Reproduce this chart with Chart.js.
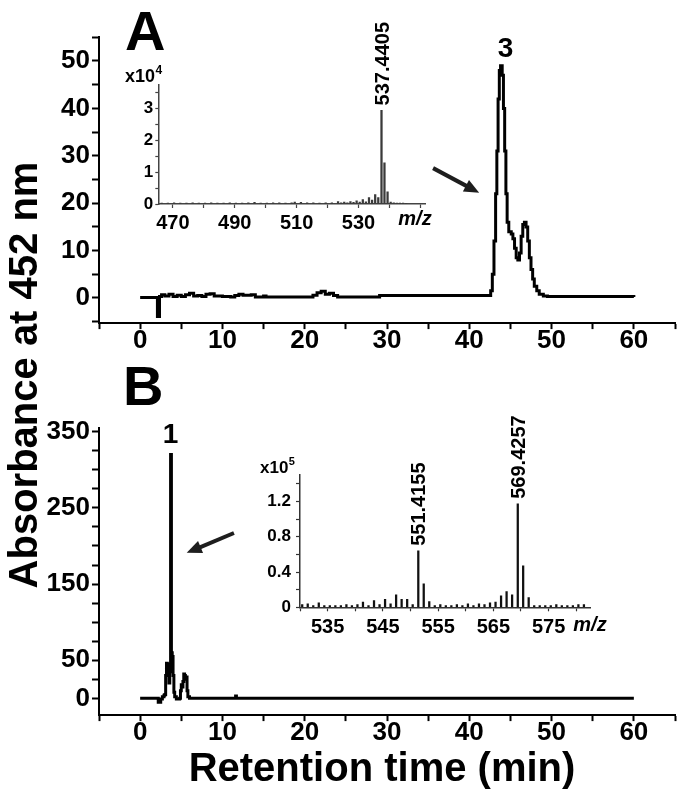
<!DOCTYPE html>
<html><head><meta charset="utf-8">
<script src="https://cdn.jsdelivr.net/npm/chart.js@4.4.0/dist/chart.umd.min.js"></script>
<style>
html,body{margin:0;padding:0;background:#fff;}
#wrap{position:relative;width:683px;height:800px;overflow:hidden;background:#fff;}
canvas{position:absolute;left:0;top:0;}
</style></head><body>
<div id="wrap">
<canvas id="cA" width="683" height="800"></canvas>
<canvas id="cB" width="683" height="800"></canvas>
<canvas id="cIA" width="683" height="800"></canvas>
<canvas id="cIB" width="683" height="800"></canvas>
</div>
<script>
// ---------- DATA ----------
// Panel A chromatogram (retention time, min / absorbance)
const tA = [0, 2.0, 2.1, 2.35, 2.6, 3.0, 3.5, 4.0, 4.5, 5.0, 5.5, 6.0, 6.5, 7.0, 7.5, 8.0, 8.5, 9.0, 10, 11, 11.5, 12, 12.5, 13.5, 14, 15, 15.3, 20, 21, 21.5, 22, 22.5, 23, 23.5, 24, 29, 29.1, 42.4, 42.6, 42.8, 43.0, 43.2, 43.35, 43.5, 43.65, 43.8, 44.0, 44.15, 44.3, 44.45, 44.6, 44.8, 45.1, 45.3, 45.5, 45.7, 45.9, 46.1, 46.3, 46.5, 46.7, 46.9, 47.1, 47.3, 47.5, 47.7, 47.9, 48.2, 48.5, 49.0, 49.5, 60];
const vA = [0.1, 0.1, -3.9, 0.3, 0.7, 0.4, 0.8, 0.3, 0.6, 0.3, 0.7, 1.0, 0.4, 0.5, 0.3, 0.8, 0.9, 0.4, 0.3, 0.2, 0.5, 0.8, 0.6, 0.7, 0.2, 0.4, 0.2, 0.2, 0.6, 1.1, 1.4, 0.8, 1.0, 0.5, 0.2, 0.2, 0.5, 0.5, 1.5, 5, 12, 22, 31, 42, 48, 49, 47, 40, 31, 22, 16, 14, 13.5, 12.5, 10.5, 8.5, 8, 9.5, 13, 15.5, 16, 15, 12, 8.5, 6, 4, 2.5, 1.5, 0.8, 0.4, 0.3, 0.2];
// Panel B chromatogram
const tB = [0, 2.0, 2.2, 2.5, 2.7, 2.9, 3.0, 3.1, 3.2, 3.3, 3.4, 3.5, 3.6, 3.7, 3.8, 3.9, 4.0, 4.1, 4.2, 4.4, 4.8, 4.9, 5.0, 5.1, 5.2, 5.3, 5.4, 5.5, 5.6, 5.7, 5.8, 6.0, 11.5, 11.6, 11.7, 60];
const vB = [0, 0, -5, -1, 2, 4, 5, 30, 46, 40, 45, 20, 35, 320, 60, 55, 30, 8, 2, -1, 0, 10, 18, 15, 22, 32, 30, 25, 28, 10, 2, 0, 0, 3, 0, 0];
// Inset A mass spectrum (m/z, intensity x10^4)
const mzA = [466.4, 468.4, 470.4, 472.4, 474.4, 476.4, 478.4, 480.4, 482.4, 484.4, 486.4, 488.4, 490.4, 492.4, 494.4, 496.4, 498.4, 500.4, 502.4, 504.4, 506.4, 508.4, 509.4, 511.4, 513.4, 515.4, 517.4, 519.4, 521.4, 523.4, 524.4, 525.4, 526.4, 527.4, 528.4, 529.4, 530.4, 531.4, 532.4, 533.4, 534.4, 535.4, 536.4, 537.4405, 538.4, 539.4, 540.4, 541.4, 542.4, 543.4, 544.4, 545.4];
const intA = [0.03, 0.03, 0.04, 0.03, 0.03, 0.04, 0.03, 0.03, 0.04, 0.03, 0.03, 0.04, 0.03, 0.03, 0.04, 0.05, 0.03, 0.03, 0.04, 0.04, 0.03, 0.04, 0.06, 0.05, 0.04, 0.04, 0.03, 0.04, 0.04, 0.08, 0.04, 0.06, 0.04, 0.08, 0.05, 0.1, 0.06, 0.14, 0.07, 0.2, 0.12, 0.3, 0.2, 2.95, 1.3, 0.38, 0.06, 0.04, 0.03, 0.03, 0.03, 0.02];
// Inset B mass spectrum (m/z, intensity x10^5)
const mzB = [530.4, 531.4, 532.4, 533.4, 534.4, 535.4, 536.4, 537.4, 538.4, 539.4, 540.4, 541.4, 542.4, 543.4, 544.4, 545.4, 546.4, 547.4, 548.4, 549.4, 550.4, 551.4155, 552.4, 553.4, 554.4, 555.4, 556.4, 557.4, 558.4, 559.4, 560.4, 561.4, 562.4, 563.4, 564.4, 565.4, 566.4, 567.4, 568.4, 569.4257, 570.4, 571.4, 572.4, 573.4, 574.4, 575.4, 576.4, 577.4, 578.4, 579.4, 580.4, 581.4];
const intB = [0.03, 0.04, 0.02, 0.05, 0.02, 0.02, 0.02, 0.02, 0.03, 0.02, 0.03, 0.06, 0.02, 0.075, 0.03, 0.09, 0.04, 0.14, 0.09, 0.09, 0.03, 0.64, 0.265, 0.065, 0.02, 0.03, 0.02, 0.02, 0.03, 0.02, 0.04, 0.02, 0.04, 0.03, 0.05, 0.06, 0.13, 0.177, 0.14, 1.174, 0.47, 0.11, 0.02, 0.02, 0.02, 0.02, 0.03, 0.02, 0.02, 0.02, 0.03, 0.03];
// Tick labels
const mainXLabels = [0, 10, 20, 30, 40, 50, 60];
const mainAYLabels = [0, 10, 20, 30, 40, 50];
const mainBYLabels = [0, 50, 150, 250, 350];
const insetAXLabels = [470, 490, 510, 530];
const insetAYLabels = [0, 1, 2, 3];
const insetBXLabels = [535, 545, 555, 565, 575];
const insetBYLabels = [0, 0.4, 0.8, 1.2];
// Annotation texts
const peakLabelA = {mz: 537.4405, text: '537.4405'};
const peakLabelsB = [{mz: 551.4155, text: '551.4155'}, {mz: 569.4257, text: '569.4257'}];

// ---------- HELPERS ----------
const FF = '"Liberation Sans", Arial, Helvetica, sans-serif';
Chart.defaults.font.family = FF;
Chart.defaults.color = '#000';
function lblCb(labels) {
  return function (v) {
    for (const l of labels) if (Math.abs(l - v) < 1e-6) return String(l);
    return '';
  };
}
function fixW(w) { return function (s) { s.width = w; }; }
function fixH(h) { return function (s) { s.height = h; }; }
function xy(xs, ys) { return xs.map((x, i) => ({x: x, y: ys[i]})); }

function axis(opts) {
  return {
    type: 'linear', min: opts.min, max: opts.max, offset: false,
    afterFit: opts.fit,
    border: {display: true, color: opts.col, width: opts.bw},
    grid: {display: true, drawOnChartArea: false, drawTicks: true, tickLength: opts.tl, tickWidth: opts.tw, tickColor: opts.col, offset: false},
    ticks: {stepSize: opts.step, autoSkip: false, maxRotation: 0, includeBounds: false, padding: opts.pad,
      color: '#000', font: {family: FF, size: opts.fs, weight: 'bold'}, callback: lblCb(opts.labels)}
  };
}

function arrow(ctx, x1, y1, x2, y2) {
  const ang = Math.atan2(y2 - y1, x2 - x1);
  const hl = 15, hw = 6.5;
  const bx = x2 - hl * Math.cos(ang), by = y2 - hl * Math.sin(ang);
  ctx.save();
  ctx.strokeStyle = '#1e1e1e'; ctx.fillStyle = '#1e1e1e';
  ctx.lineWidth = 4; ctx.lineCap = 'butt';
  ctx.beginPath(); ctx.moveTo(x1, y1); ctx.lineTo(bx + 2 * Math.cos(ang), by + 2 * Math.sin(ang)); ctx.stroke();
  ctx.beginPath();
  ctx.moveTo(x2, y2);
  ctx.lineTo(bx + hw * Math.sin(ang), by - hw * Math.cos(ang));
  ctx.lineTo(bx - hw * Math.sin(ang), by + hw * Math.cos(ang));
  ctx.closePath(); ctx.fill();
  ctx.restore();
}
function vtext(ctx, x, yBottom, text, size) {
  ctx.save();
  ctx.font = 'bold ' + size + 'px ' + FF;
  ctx.translate(x + 0.358 * size, yBottom);
  ctx.rotate(-Math.PI / 2);
  ctx.textAlign = 'left'; ctx.textBaseline = 'alphabetic';
  ctx.fillStyle = '#000';
  ctx.fillText(text, 0, 0);
  ctx.restore();
}
function text(ctx, t, x, y, font, align) {
  ctx.save(); ctx.font = font; ctx.textAlign = align || 'left'; ctx.textBaseline = 'alphabetic';
  ctx.fillStyle = '#000'; ctx.fillText(t, x, y); ctx.restore();
}
function sciLabel(ctx, x, y, exp, size) {
  ctx.save(); ctx.fillStyle = '#000'; ctx.textBaseline = 'alphabetic'; ctx.textAlign = 'left';
  ctx.font = 'bold ' + size + 'px ' + FF;
  ctx.fillText('x10', x, y);
  const w = ctx.measureText('x10').width;
  ctx.font = 'bold ' + Math.round(size * 0.65) + 'px ' + FF;
  ctx.fillText(exp, x + w + 0.5, y - size * 0.45);
  ctx.restore();
}

const base = {responsive: false, animation: false, devicePixelRatio: 1,
  plugins: {legend: {display: false}, tooltip: {enabled: false}}, events: []};

// ---------- MAIN A ----------
new Chart(document.getElementById('cA'), {
  type: 'line',
  data: {datasets: [{data: xy(tA, vA), stepped: true, borderColor: '#000', borderWidth: 3, pointRadius: 0, fill: false}]},
  options: Object.assign({}, base, {
    layout: {padding: {left: 0, top: 37.3, right: 8, bottom: 436.9}},
    scales: {
      x: axis({min: -5, max: 65, step: 5, labels: mainXLabels, fit: fixH(40), col: '#000', bw: 2, tl: 6, tw: 2, pad: -4, fs: 26}),
      y: axis({min: -5.3, max: 55, step: 5, labels: mainAYLabels, fit: fixW(99), col: '#000', bw: 2, tl: 7, tw: 2, pad: 2, fs: 26})
    }
  }),
  plugins: [{id: 'annA', afterDraw(chart) {
    const ctx = chart.ctx, x = chart.scales.x, y = chart.scales.y;
    text(ctx, 'A', 125, 50, 'bold 56px ' + FF);
    text(ctx, '3', x.getPixelForValue(44.4), y.getPixelForValue(50.8), 'bold 28px ' + FF, 'center');
    arrow(ctx, x.getPixelForValue(35.6), y.getPixelForValue(27.4), x.getPixelForValue(41.2), y.getPixelForValue(22.2));
    ctx.save(); ctx.font = 'bold 40px ' + FF; ctx.fillStyle = '#000';
    ctx.translate(37, 375); ctx.rotate(-Math.PI / 2); ctx.textAlign = 'center'; ctx.textBaseline = 'alphabetic';
    ctx.fillText('Absorbance at 452 nm', 0, 0); ctx.restore();
  }}]
});

// ---------- MAIN B ----------
new Chart(document.getElementById('cB'), {
  type: 'line',
  data: {datasets: [{data: xy(tB, vB), stepped: true, borderColor: '#000', borderWidth: 3, pointRadius: 0, fill: false}]},
  options: Object.assign({}, base, {
    layout: {padding: {left: 0, top: 427.9, right: 8, bottom: 44.9}},
    scales: {
      x: axis({min: -5, max: 65, step: 5, labels: mainXLabels, fit: fixH(40), col: '#000', bw: 2, tl: 6, tw: 2, pad: -4, fs: 26}),
      y: axis({min: -22, max: 355, step: 25, labels: mainBYLabels, fit: fixW(99), col: '#000', bw: 2, tl: 7, tw: 2, pad: 2, fs: 26})
    }
  }),
  plugins: [{id: 'annB', afterDraw(chart) {
    const ctx = chart.ctx, x = chart.scales.x, y = chart.scales.y;
    text(ctx, 'B', 123, 405, 'bold 56px ' + FF);
    text(ctx, '1', x.getPixelForValue(3.7), y.getPixelForValue(335), 'bold 28px ' + FF, 'center');
    arrow(ctx, x.getPixelForValue(11.4), y.getPixelForValue(217), x.getPixelForValue(5.66), y.getPixelForValue(191));
    text(ctx, 'Retention time (min)', 382, 781, 'bold 40px ' + FF, 'center');
  }}]
});

// ---------- INSET A ----------
new Chart(document.getElementById('cIA'), {
  type: 'bar',
  data: {datasets: [{data: xy(mzA, intA), backgroundColor: '#3a3a3a', borderWidth: 0, barThickness: 1.6}]},
  options: Object.assign({}, base, {
    layout: {padding: {left: 118.3, top: 85, right: 258, bottom: 566}},
    scales: {
      x: axis({min: 465.3, max: 551.5, step: 10, labels: insetAXLabels, fit: fixH(30), col: '#444', bw: 1.5, tl: 4, tw: 1.2, pad: 3, fs: 20}),
      y: axis({min: 0, max: 3.75, step: 0.5, labels: insetAYLabels, fit: fixW(40), col: '#444', bw: 1.5, tl: 3, tw: 1.2, pad: 2, fs: 17})
    }
  }),
  plugins: [{id: 'annIA', afterDraw(chart) {
    const ctx = chart.ctx, x = chart.scales.x, y = chart.scales.y;
    sciLabel(ctx, 125, 82, '4', 18);
    const i = mzA.indexOf(peakLabelA.mz);
    vtext(ctx, x.getPixelForValue(peakLabelA.mz), y.getPixelForValue(intA[i]) - 5, peakLabelA.text, 20);
    text(ctx, 'm/z', 415, 225, 'italic bold 20px ' + FF, 'center');
  }}]
});

// ---------- INSET B ----------
new Chart(document.getElementById('cIB'), {
  type: 'bar',
  data: {datasets: [{data: xy(mzB, intB), backgroundColor: '#111', borderWidth: 0, barThickness: 1.6}]},
  options: Object.assign({}, base, {
    layout: {padding: {left: 255, top: 475, right: 93, bottom: 162.7}},
    scales: {
      x: axis({min: 530, max: 582.5, step: 5, labels: insetBXLabels, fit: fixH(30), col: '#333', bw: 1.5, tl: 4, tw: 1.2, pad: 4, fs: 20}),
      y: axis({min: 0, max: 1.5, step: 0.2, labels: insetBYLabels, fit: fixW(45), col: '#333', bw: 1.5, tl: 4, tw: 1.2, pad: 5, fs: 17})
    }
  }),
  plugins: [{id: 'annIB', afterDraw(chart) {
    const ctx = chart.ctx, x = chart.scales.x, y = chart.scales.y;
    sciLabel(ctx, 260, 473, '5', 17);
    for (const p of peakLabelsB) {
      const i = mzB.indexOf(p.mz);
      vtext(ctx, x.getPixelForValue(p.mz), y.getPixelForValue(intB[i]) - 5, p.text, 20);
    }
    text(ctx, 'm/z', 590, 631, 'italic bold 20px ' + FF, 'center');
  }}]
});
</script>
</body></html>
